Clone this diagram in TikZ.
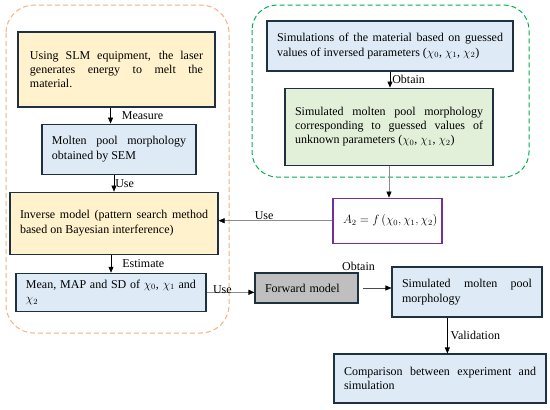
\documentclass[tikz,border=0pt]{standalone}
\usepackage{fontspec}
\setmainfont{Liberation Serif}
\usetikzlibrary{positioning,arrows.meta,calc}
\definecolor{boxline}{HTML}{1F3040}
\definecolor{paleyellow}{HTML}{FFF2CC}
\definecolor{paleblue}{HTML}{DEEBF7}
\definecolor{palegreen}{HTML}{E2F0D9}
\definecolor{modelgray}{HTML}{BFBFBF}
\definecolor{eqpurple}{HTML}{7030A0}
\definecolor{dashorange}{HTML}{F4B183}
\definecolor{dashgreen}{HTML}{00B050}
\tikzset{
  block/.style={draw=boxline, line width=1.1pt, inner xsep=10pt, inner ysep=3pt,
    align=justify, font=\fontsize{12}{14.4}\selectfont,
    execute at begin node={\hyphenpenalty=10000 \tolerance=9999 }},
  yellowblock/.style={block, fill=paleyellow},
  blueblock/.style={block, fill=paleblue},
  greenblock/.style={block, fill=palegreen},
  flow/.style={draw=black, line width=0.6pt, -{Triangle[length=6pt,width=5pt,black]}},
  grayflow/.style={flow, draw=black!45},
  lbl/.style={font=\fontsize{12}{14.4}\selectfont, inner sep=1pt},
  frame/.style={dash pattern=on 5pt off 3pt, rounded corners=28pt, line width=1pt}
}

\begin{document}
\begin{tikzpicture}[x=1pt,y=-1pt]
  \useasboundingbox (0,0) rectangle (550,410);

  % dashed groups
  \draw[frame, dashorange] (6,5) rectangle (229,333);
  \draw[frame, dashgreen, rounded corners=25pt] (252,5) rectangle (529,177);

  % left column
  \node[yellowblock, text width=173pt, inner xsep=12pt, minimum height=75pt] (slm) at (116.5,69.5)
    {Using SLM equipment, the laser generates energy to melt the material.};
  \node[blueblock, text width=134pt, minimum height=50pt, below=16pt of slm, xshift=2.5pt] (sem)
    {Molten pool morphology obtained by SEM};
  \node[yellowblock, text width=188pt, minimum height=62pt, below=17pt of sem, xshift=-5pt] (inv)
    {Inverse model (pattern search method based on Bayesian interference)};
  \node[blueblock, text width=170pt, minimum height=38pt, below=18pt of inv, xshift=-3pt] (mean)
    {Mean, MAP and SD of $\chi_0$, $\chi_1$ and $\chi_2$};

  % right column
  \node[blueblock, text width=226pt, minimum height=50pt] (simu) at (390,46)
    {Simulations of the material based on guessed values of inversed parameters ($\chi_0$, $\chi_1$, $\chi_2$)};
  \node[greenblock, text width=188pt, minimum height=77pt, below=16pt of simu, xshift=-1pt] (grn)
    {Simulated molten pool morphology corresponding to guessed values of unknown parameters ($\chi_0$, $\chi_1$, $\chi_2$)};
  \node[block, draw=eqpurple, fill=white, align=left, text width=89pt, minimum height=45pt,
    below=32pt of grn, xshift=-1.5pt] (a2)
    {\mbox{$A_2 = f\,(\chi_0, \chi_1, \chi_2)$}};

  % bottom row
  \node[block, fill=modelgray, align=left, text width=83pt, minimum height=30pt] (fwd) at (306.5,288)
    {Forward model};
  \node[blueblock, text width=130pt, minimum height=50pt] (sim) at (467,292)
    {Simulated molten pool morphology};
  \node[blueblock, text width=192pt, minimum height=49pt] (cmp) at (440,378.5)
    {Comparison between experiment and simulation};

  \coordinate (m1) at ($(slm.south west)!.47!(slm.south east)$);
  \coordinate (v1) at ($(sim.south west)!.37!(sim.south east)$);

  \draw[flow] (m1) -- node[lbl, right=10pt] {Measure} (m1 |- sem.north);
  \draw[flow] (inv.north |- sem.south) -- node[lbl, right=0pt] {Use} (inv.north);
  \draw[flow] (mean.north |- inv.south) -- node[lbl, right=10pt] {Estimate} (mean.north);
  \draw[flow] (simu.south) -- node[lbl, right=1pt] {Obtain} (simu.south |- grn.north);
  \draw[grayflow] (grn.south) -- (grn.south |- a2.north);
  \draw[grayflow] (a2.west) -- node[lbl, above, pos=.6] {Use} (a2.west -| inv.east);
  \draw[grayflow] (mean.east) -- node[lbl, above, pos=.33, yshift=-3pt] {Use} (mean.east -| fwd.west);
  \draw[flow, draw=black!70, shorten <=4pt] (fwd.east) -- node[lbl, above=16pt, pos=0] {Obtain} (fwd.east -| sim.west);
  \draw[flow] (v1) -- node[lbl, right=2pt] {Validation} (v1 |- cmp.north);

\end{tikzpicture}
\end{document}
